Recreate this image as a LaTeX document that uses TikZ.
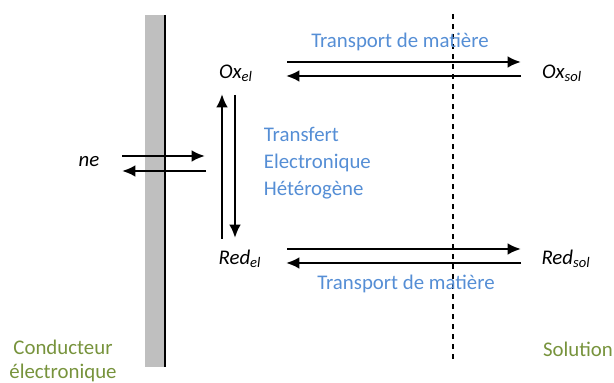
\documentclass[tikz,border=0pt]{standalone}
\usepackage{fontspec}
\setmainfont{Carlito}
\usetikzlibrary{arrows.meta}
\definecolor{bleu}{HTML}{558ED5}
\definecolor{vert}{HTML}{77933C}
\tikzset{
 fleche/.style={line width=1.4pt,-{Latex[length=8pt,width=7pt]}},
 espece/.style={font=\fontsize{12.5}{15}\selectfont\itshape},
 titre/.style={font=\fontsize{12.5}{15}\selectfont,text=bleu},
 milieu/.style={font=\fontsize{12.5}{14.4}\selectfont,text=vert,align=center}
}
\begin{document}
\begin{tikzpicture}[x=0.6pt,y=-0.6pt]
\useasboundingbox (0,0) rectangle (614,383);
% electrode
\fill[gray!50] (145,15) rectangle (164,367);
\draw[line width=1.5pt] (165,15) -- (165,367);
% limite de la couche
\draw[dashed,line width=0.8pt] (453,14) -- (453,362);

\node[espece] (oxel) at (236,73) {Ox\textsubscript{el}};
\node[espece] (redel) at (240,259) {Red\textsubscript{el}};
\node[espece] (oxsol) at (562,73) {Ox\textsubscript{sol}};
\node[espece] (redsol) at (566,259) {Red\textsubscript{sol}};
\node[espece] (ne) at (89,162) {ne};

% bouts des fleches
\coordinate (a1) at (287,62); \coordinate (a2) at (521,62);
\coordinate (b1) at (521,76); \coordinate (b2) at (286,76);
\coordinate (c1) at (287,249); \coordinate (c2) at (521,249);
\coordinate (d1) at (521,263); \coordinate (d2) at (286,263);
\coordinate (e1) at (222,239); \coordinate (e2) at (222,94);
\coordinate (f1) at (235,95); \coordinate (f2) at (235,238);
\coordinate (g1) at (122,156); \coordinate (g2) at (205,156);
\coordinate (h1) at (206,171); \coordinate (h2) at (122,171);

\draw[fleche] (a1) -- (a2);
\draw[fleche] (b1) -- (b2);
\draw[fleche] (c1) -- (c2);
\draw[fleche] (d1) -- (d2);
\draw[fleche] (e1) -- (e2);
\draw[fleche] (f1) -- (f2);
\draw[fleche] (g1) -- (g2);
\draw[fleche] (h1) -- (h2);

\node[titre] (tm1) at (400,42) {Transport de matière};
\node[titre] (tm2) at (406,284) {Transport de matière};
\node[titre,align=left,anchor=north west,font=\fontsize{12.5}{16.2}\selectfont] (tr) at (258,121) {Transfert\\Electronique\\Hétérogène};

\node[milieu] (cond) at (63,361) {Conducteur\\électronique};
\node[milieu] (sol) at (578,349) {Solution};
\end{tikzpicture}
\end{document}
